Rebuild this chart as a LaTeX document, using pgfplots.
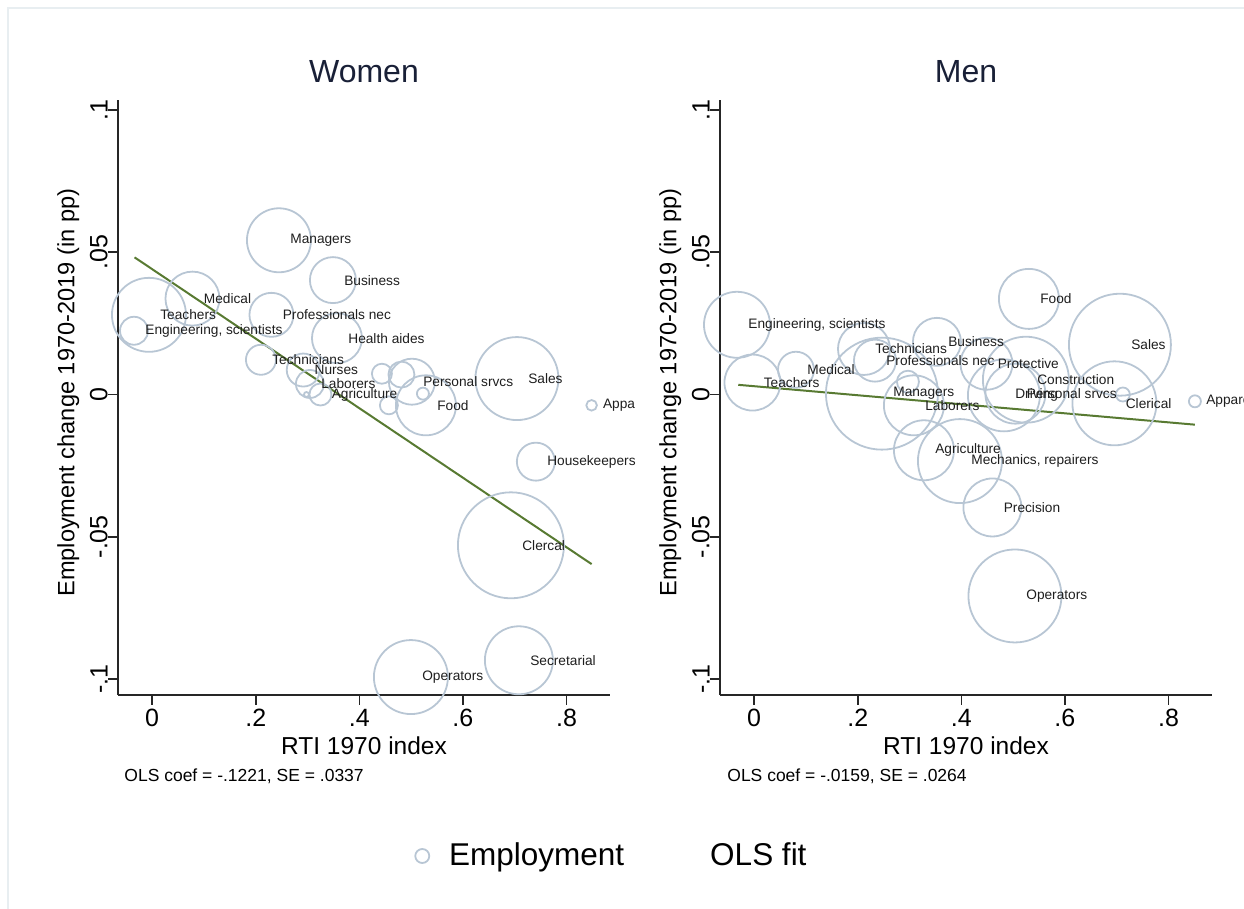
\documentclass[border=0pt]{standalone}
\usepackage{fontspec}
\setmainfont{Liberation Sans}
\usepackage{pgfplots}
\usepackage{pgfplotstable}
\pgfplotsset{compat=1.18}
\definecolor{bub}{RGB}{184,198,212}
\definecolor{fitc}{RGB}{88,122,50}
\definecolor{labc}{RGB}{30,30,30}
\definecolor{titc}{RGB}{25,32,55}

\pgfplotstableread{
x y r lab
-0.0062 0.0280 37 Teachers
-0.0351 0.0224 14 {Engineering, scientists}
0.0778 0.0337 27 Medical
0.2448 0.0542 32 Managers
0.3490 0.0402 23 Business
0.2303 0.0280 22 {Professionals nec}
0.3568 0.0198 25 {Health aides}
0.2100 0.0122 15 Technicians
0.2917 0.0086 16.5 Nurses
0.3046 0.0037 14 Laborers
0.3249 0.0000 11 Agriculture
0.5015 0.0045 23 {Personal srvcs}
0.5286 -0.0038 30 Food
0.7043 0.0056 41.5 Sales
0.8485 -0.0038 5.3 Appa
0.7409 -0.0236 19 Housekeepers
0.6927 -0.0530 53 Clercal
0.7081 -0.0934 34 Secretarial
0.4996 -0.0993 37 Operators
0.4436 0.0073 10 {}
0.4813 0.0070 13 {}
0.4571 -0.0038 9 {}
0.5228 0.0003 6 {}
0.2979 0.0000 2.5 {}
}\womendata

\pgfplotstableread{
x y r lab
-0.0332 0.0245 33 {Engineering, scientists}
-0.0033 0.0042 28 Teachers
0.0807 0.0087 18 Medical
0.2120 0.0160 26 Technicians
0.2332 0.0119 21 {Professionals nec}
0.3529 0.0185 24 Business
0.2467 0.0003 56 Managers
0.3084 -0.0038 30 Laborers
0.4485 0.0108 26 Protective
0.5247 0.0052 43 Construction
0.5044 0.0003 30 {Personal srvcs}
0.4822 -0.0003 36 Driving
0.5305 0.0336 30 Food
0.7062 0.0175 51 Sales
0.6956 -0.0031 42 Clerical
0.8510 -0.0024 6 Apparel
0.3278 -0.0196 30 Agriculture
0.3973 -0.0234 42 {Mechanics, repairers}
0.4600 -0.0397 29 Precision
0.5035 -0.0708 46.5 Operators
0.2969 0.0045 11 {}
0.7119 0.0000 7 {}
}\mendata

\pgfplotsset{
  panel/.style={
    scale only axis, width=246pt, height=297.5pt,
    xmin=-0.066, xmax=0.884, ymin=-0.1056, ymax=0.1035,
    clip=false,
    axis lines*=left,
    axis line style={line width=0.75pt, draw=black!85},
    tick align=outside,
    major tick length=5pt,
    major tick style={line width=0.75pt, draw=black!85},
    xtick={0,0.2,0.4,0.6,0.8}, xticklabels={0,.2,.4,.6,.8},
    ytick={-0.1,-0.05,0,0.05,0.1}, yticklabels={-.1,-.05,0,.05,.1},
    xticklabel style={font=\fontsize{12.5}{14}\selectfont, inner sep=2pt},
    yticklabel style={font=\fontsize{12.5}{14}\selectfont, rotate=90, anchor=south, inner sep=0pt},
    xlabel={RTI 1970 index},
    ylabel={Employment change 1970-2019 (in pp)},
    xlabel style={at={(axis description cs:0.5,-0.0857)}, anchor=center, font=\fontsize{12.25}{14}\selectfont},
    ylabel style={at={(axis description cs:-0.101,0.508)}, anchor=center, font=\fontsize{11.8}{14}\selectfont},
    title style={at={(axis description cs:0.5,1.027)}, anchor=center, font=\fontsize{16}{19}\selectfont, text=titc},
  },
  bubbles/.style={
    scatter, only marks, mark=o,
    scatter/use mapped color={draw=bub, fill=none},
    mark options={line width=0.9pt},
    visualization depends on={0.5*\thisrow{r} \as \rad},
    scatter/@pre marker code/.append style={/tikz/mark size=\rad},
  },
  labels/.style={
    only marks, mark=none, forget plot,
    nodes near coords, point meta=explicit symbolic,
    nodes near coords style={anchor=west, xshift=5.5pt, inner sep=0pt, text=labc, font=\fontsize{6.85}{8}\selectfont},
  },
}

\begin{document}
\begin{tikzpicture}
\useasboundingbox (0,0) rectangle (622pt,454.5pt);
\draw[color={rgb,255:red,232;green,238;blue,241}, line width=1pt] (4pt,0) -- (4pt,450.5pt) -- (622pt,450.5pt);

\begin{axis}[panel, at={(59pt,107pt)}, anchor=south west, title={Women},
  legend style={at={(axis description cs:0.6016,-0.2706)}, anchor=west, draw=none, fill=none,
    inner sep=0pt, legend columns=2, font=\fontsize{15.75}{18}\selectfont,
    nodes={inner sep=0pt},
    /tikz/every odd column/.append style={column sep=9.5pt},
    /tikz/every even column/.append style={column sep=32.5pt}},
  legend cell align=left]
\addplot[bubbles, legend image code/.code={\draw[bub, line width=0.9pt] (3.5pt,0pt) circle (3.5pt);}] table[x=x, y=y] {\womendata};
\addlegendentry{Employment}
\addplot[labels] table[x=x, y=y, meta=lab] {\womendata};
\addplot[fitc, line width=1pt, legend image code/.code={\path (0pt,0pt);}] coordinates {(-0.034,0.0482) (0.8485,-0.0596)};
\addlegendentry{OLS fit}
\node[anchor=west, inner sep=0pt, font=\fontsize{8.75}{10}\selectfont] at (axis description cs:0.0122,-0.1361) {OLS coef = -.1221, SE = .0337};
\end{axis}

\begin{axis}[panel, at={(360pt,107pt)}, anchor=south west, title={Men}]
\addplot[bubbles] table[x=x, y=y] {\mendata};
\addplot[labels] table[x=x, y=y, meta=lab] {\mendata};
\addplot[fitc, line width=1pt] coordinates {(-0.0307,0.0034) (0.8510,-0.0106)};
\node[anchor=west, inner sep=0pt, font=\fontsize{8.75}{10}\selectfont] at (axis description cs:0.0142,-0.1361) {OLS coef = -.0159, SE = .0264};
\end{axis}
\end{tikzpicture}
\end{document}
